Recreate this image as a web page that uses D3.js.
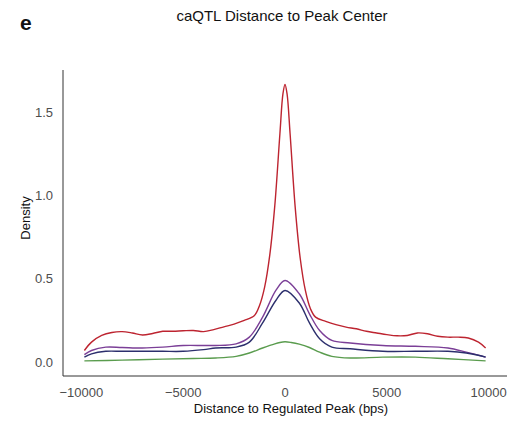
<!DOCTYPE html>
<html><head><meta charset="utf-8">
<script src="https://cdn.jsdelivr.net/npm/d3@7"></script>
<style>body{margin:0;background:#fff;} svg{display:block;font-family:"Liberation Sans",Arial,sans-serif;}</style>
</head><body><svg id="c" width="523" height="423"></svg>
<script>
const xTicks = [-10000, -5000, 0, 5000, 10000];
const yTicks = [0.0, 0.5, 1.0, 1.5];
const seriesNames = ["red", "purple", "navy", "green"];
const seriesColors = ["#bd2430", "#7b3f97", "#2c2f6d", "#5a9c4e"];
const redX = [-9850,-9500,-9000,-8500,-8000,-7500,-7000,-6500,-6000,-5500,-5000,-4500,-4000,-3500,-3000,-2500,-2000,-1500,-1250,-1000,-750,-500,-250,-100,0,100,250,500,750,1000,1250,1500,2000,2500,3000,3500,4000,4500,5000,5500,6000,6500,7000,7500,8000,8500,9000,9500,9850];
const redY = [0.07,0.12,0.16,0.178,0.183,0.175,0.163,0.172,0.185,0.185,0.188,0.19,0.183,0.195,0.212,0.228,0.25,0.28,0.34,0.45,0.64,0.94,1.37,1.61,1.665,1.61,1.37,0.93,0.62,0.43,0.32,0.27,0.245,0.225,0.21,0.2,0.185,0.175,0.165,0.158,0.16,0.175,0.17,0.155,0.15,0.15,0.145,0.12,0.085];
const purpleX = [-9850,-9500,-8800,-8000,-7000,-6000,-5000,-4000,-3400,-2400,-1750,-1100,-450,0,700,1200,1700,2300,3200,4800,6400,8000,8900,9850];
const purpleY = [0.045,0.07,0.09,0.088,0.085,0.09,0.1,0.1,0.1,0.11,0.15,0.27,0.43,0.49,0.41,0.29,0.19,0.13,0.115,0.1,0.095,0.085,0.06,0.03];
const navyX = [-9850,-9500,-8800,-8000,-7000,-6000,-5000,-4000,-3400,-2400,-1750,-1100,-450,0,700,1200,1700,2300,3200,4800,6400,8000,8900,9850];
const navyY = [0.03,0.05,0.065,0.065,0.065,0.065,0.065,0.075,0.085,0.09,0.12,0.235,0.37,0.43,0.355,0.235,0.14,0.09,0.08,0.065,0.065,0.065,0.055,0.03];
const greenX = [-9850,-8000,-6000,-4500,-3400,-2400,-1750,-1100,-500,-250,0,300,700,1200,1700,2300,3200,4800,6400,8000,9850];
const greenY = [0.008,0.012,0.018,0.022,0.025,0.035,0.055,0.085,0.11,0.118,0.122,0.118,0.108,0.088,0.06,0.035,0.025,0.03,0.03,0.02,0.008];
const seriesX = [redX, purpleX, navyX, greenX];
const seriesY = [redY, purpleY, navyY, greenY];

const svg = d3.select("#c");
const x = d3.scaleLinear().domain([-10900, 10900]).range([63, 507]);
const y = d3.scaleLinear().domain([-0.083, 1.752]).range([376, 70]);

svg.append("line").attr("x1",63).attr("x2",507).attr("y1",376).attr("y2",376).attr("stroke","#333").attr("stroke-width",1);
svg.append("line").attr("x1",63).attr("x2",63).attr("y1",70).attr("y2",376).attr("stroke","#333").attr("stroke-width",1);

svg.selectAll(".xt").data(xTicks).enter().append("text")
  .attr("x", d => x(d)).attr("y", 397).attr("text-anchor","middle")
  .attr("font-size",13).attr("fill","#4d4d4d")
  .text(d => d < 0 ? "\u2212" + Math.abs(d) : String(d));
svg.selectAll(".yt").data(yTicks).enter().append("text")
  .attr("x", 53).attr("y", d => y(d)).attr("dy","0.35em").attr("text-anchor","end")
  .attr("font-size",13).attr("fill","#4d4d4d")
  .text(d => d3.format(".1f")(d));

const line = d3.line().x(d => x(d[0])).y(d => y(d[1])).curve(d3.curveCatmullRom.alpha(0.5));
seriesNames.forEach((n, i) => {
  const pts = seriesX[i].map((v, j) => [v, seriesY[i][j]]);
  svg.append("path").attr("d", line(pts)).attr("fill","none")
    .attr("stroke", seriesColors[i]).attr("stroke-width",1.4);
});

svg.append("text").attr("x",282).attr("y",21).attr("text-anchor","middle").attr("font-size",15).attr("fill","#111").text("caQTL Distance to Peak Center");
svg.append("text").attr("x",20).attr("y",30).attr("font-size",21).attr("font-weight","bold").attr("fill","#111").text("e");
svg.append("text").attr("x",291).attr("y",413).attr("text-anchor","middle").attr("font-size",13).attr("fill","#111").text("Distance to Regulated Peak (bps)");
svg.append("text").attr("transform","translate(30,218) rotate(-90)").attr("text-anchor","middle").attr("font-size",13).attr("fill","#111").text("Density");
</script></body></html>
